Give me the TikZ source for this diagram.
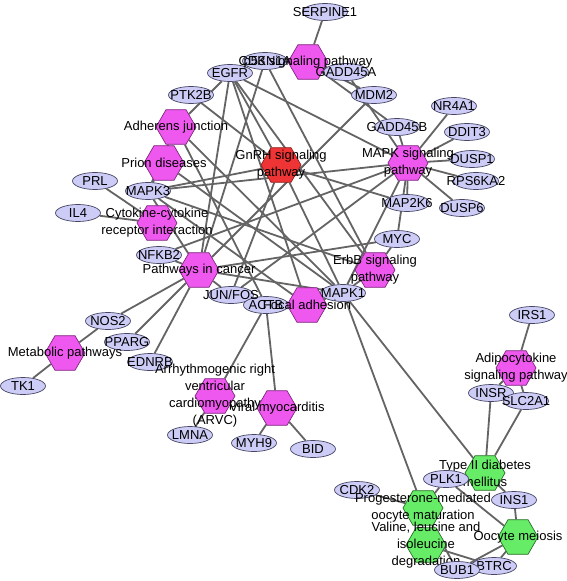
\documentclass[tikz,border=0pt]{standalone}
\usepackage{fontspec}
\setmainfont{Liberation Sans}
\usetikzlibrary{shapes.geometric}
\pgfdeclarelayer{background}
\pgfdeclarelayer{paper}
\pgfsetlayers{paper,background,main}
\definecolor{hexmag}{RGB}{238,88,238}
\definecolor{hexmagdraw}{RGB}{125,40,125}
\definecolor{redfill}{RGB}{238,52,52}
\definecolor{reddraw}{RGB}{140,30,30}
\definecolor{greenfill}{RGB}{102,236,102}
\definecolor{greendraw}{RGB}{40,110,40}
\definecolor{genefill}{RGB}{204,204,247}
\definecolor{genedraw}{RGB}{70,70,100}
\definecolor{edgecol}{RGB}{100,100,100}
\begin{document}
\begin{tikzpicture}[x=1pt,y=-1pt,
 gene/.style={ellipse,draw=genedraw,fill=genefill,line width=0.7pt,minimum width=45pt,minimum height=17pt,inner sep=0pt},
 hexbase/.style={regular polygon,regular polygon sides=6,minimum size=40pt,inner sep=0pt,line width=0.7pt},
 pw/.style={hexbase,draw=hexmagdraw,fill=hexmag},
 pwred/.style={hexbase,draw=reddraw,fill=redfill},
 pwgreen/.style={hexbase,draw=greendraw,fill=greenfill},
 lbl/.style={font=\fontsize{13}{17}\selectfont,align=center,inner sep=0pt,text=black},
 conn/.style={draw=edgecol,line width=1.8pt}]
\useasboundingbox (0,0) rectangle (567,581);
\begin{pgfonlayer}{paper}
\fill[white] (0,0) rectangle (567,581);
\end{pgfonlayer}
% gene shapes
\node[gene] (SERPINE1) at (325,12) {};
\node[gene] (CDKN1A) at (265,61) {};
\node[gene] (GADD45A) at (346,72) {};
\node[gene] (EGFR) at (230,73) {};
\node[gene] (MDM2) at (374,95) {};
\node[gene] (PTK2B) at (191,95) {};
\node[gene] (NR4A1) at (454,106) {};
\node[gene] (GADD45B) at (397,127) {};
\node[gene] (DDIT3) at (467,132) {};
\node[gene] (DUSP1) at (472,159) {};
\node[gene] (PRL) at (95,181) {};
\node[gene] (RPS6KA2) at (476,181) {};
\node[gene] (MAPK3) at (148,191) {};
\node[gene] (MAP2K6) at (407,203) {};
\node[gene] (DUSP6) at (462,208) {};
\node[gene] (IL4) at (78,213) {};
\node[gene] (MYC) at (397,239) {};
\node[gene] (NFKB2) at (159,255) {};
\node[gene] (MAPK1) at (343,293) {};
\node[gene] (JUNFOS) at (231,295) {};
\node[gene] (ACTB) at (266,305) {};
\node[gene] (NOS2) at (108,321) {};
\node[gene] (IRS1) at (532,315) {};
\node[gene] (PPARG) at (127,342) {};
\node[gene] (EDNRB) at (150,362) {};
\node[gene] (TK1) at (23,386) {};
\node[gene] (INSR) at (491,393) {};
\node[gene] (SLC2A1) at (526,401) {};
\node[gene] (LMNA) at (190,435) {};
\node[gene] (MYH9) at (254,443) {};
\node[gene] (BID) at (313,449) {};
\node[gene] (CDK2) at (357,490) {};
\node[gene] (INS1) at (514,500) {};
% pathway shapes
\node[pw] (p53) at (308,62) {};
\node[pw] (Adherens) at (176,127) {};
\node[pw] (Prion) at (164,163) {};
\node[pwred] (GnRH) at (281,165) {};
\node[pw] (MAPK) at (408,163) {};
\node[pw] (Cytokine) at (157,223) {};
\node[pw] (Cancer) at (199,270) {};
\node[pw] (ErbB) at (375,270) {};
\node[pw] (Focal) at (307,305) {};
\node[pw] (Metabolic) at (65,353) {};
\node[pw] (ARVC) at (215,396) {};
\node[pw] (Viral) at (277,408) {};
\node[pw] (Adipo) at (516,368) {};
\node[pwgreen] (TypeII) at (485,473) {};
\node[pwgreen] (Prog) at (423,508) {};
\node[pwgreen] (Oocyte) at (518,537) {};
\node[pwgreen] (Valine) at (426,545) {};
% labels
\node[lbl] (SERPINE1-l) at (SERPINE1) {SERPINE1};
\node[lbl] (CDKN1A-l) at (CDKN1A) {CDKN1A};
\node[lbl] (GADD45A-l) at (GADD45A) {GADD45A};
\node[lbl] (EGFR-l) at (EGFR) {EGFR};
\node[lbl] (MDM2-l) at (MDM2) {MDM2};
\node[lbl] (PTK2B-l) at (PTK2B) {PTK2B};
\node[lbl] (NR4A1-l) at (NR4A1) {NR4A1};
\node[lbl] (GADD45B-l) at (GADD45B) {GADD45B};
\node[lbl] (DDIT3-l) at (DDIT3) {DDIT3};
\node[lbl] (DUSP1-l) at (DUSP1) {DUSP1};
\node[lbl] (PRL-l) at (PRL) {PRL};
\node[lbl] (RPS6KA2-l) at (RPS6KA2) {RPS6KA2};
\node[lbl] (MAPK3-l) at (MAPK3) {MAPK3};
\node[lbl] (MAP2K6-l) at (MAP2K6) {MAP2K6};
\node[lbl] (DUSP6-l) at (DUSP6) {DUSP6};
\node[lbl] (IL4-l) at (IL4) {IL4};
\node[lbl] (MYC-l) at (MYC) {MYC};
\node[lbl] (NFKB2-l) at (NFKB2) {NFKB2};
\node[lbl] (MAPK1-l) at (MAPK1) {MAPK1};
\node[lbl] (JUNFOS-l) at (JUNFOS) {JUN/FOS};
\node[lbl] (ACTB-l) at (ACTB) {ACTB};
\node[lbl] (NOS2-l) at (NOS2) {NOS2};
\node[lbl] (IRS1-l) at (IRS1) {IRS1};
\node[lbl] (PPARG-l) at (PPARG) {PPARG};
\node[lbl] (EDNRB-l) at (EDNRB) {EDNRB};
\node[lbl] (TK1-l) at (TK1) {TK1};
\node[lbl] (INSR-l) at (INSR) {INSR};
\node[lbl] (SLC2A1-l) at (SLC2A1) {SLC2A1};
\node[lbl] (LMNA-l) at (LMNA) {LMNA};
\node[lbl] (MYH9-l) at (MYH9) {MYH9};
\node[lbl] (BID-l) at (BID) {BID};
\node[lbl] (CDK2-l) at (CDK2) {CDK2};
\node[lbl] (INS1-l) at (INS1) {INS1};
\node[lbl] (p53-l) at (p53) {p53 signaling pathway};
\node[lbl] (Adherens-l) at (Adherens) {Adherens junction};
\node[lbl] (Prion-l) at (Prion) {Prion diseases};
\node[lbl] (GnRH-l) at (GnRH) {GnRH signaling\\pathway};
\node[lbl] (MAPK-l) at (MAPK) {MAPK signaling\\pathway};
\node[lbl] (Cytokine-l) at (Cytokine) {Cytokine-cytokine\\receptor interaction};
\node[lbl] (Cancer-l) at (Cancer) {Pathways in cancer};
\node[lbl] (ErbB-l) at (ErbB) {ErbB signaling\\pathway};
\node[lbl] (Focal-l) at (Focal) {Focal adhesion};
\node[lbl] (Metabolic-l) at (Metabolic) {Metabolic pathways};
\node[lbl] (ARVC-l) at (ARVC) {Arrhythmogenic right\\ventricular\\cardiomyopathy\\(ARVC)};
\node[lbl] (Viral-l) at (Viral) {Viral myocarditis};
\node[lbl] (Adipo-l) at (Adipo) {Adipocytokine\\signaling pathway};
\node[lbl] (TypeII-l) at (TypeII) {Type II diabetes\\mellitus};
\node[lbl] (Prog-l) at (Prog) {Progesterone-mediated\\oocyte maturation};
\node[lbl] (Oocyte-l) at (Oocyte) {Oocyte meiosis};
\node[lbl] (Valine-l) at (Valine) {Valine, leucine and\\isoleucine\\degradation};
% late shapes covering labels
\node[gene] (PLK1) at (446,479) {};
\node[lbl] (PLK1-l) at (PLK1) {PLK1};
\node[gene] (BTRC) at (494,566) {};
\node[lbl] (BTRC-l) at (BTRC) {BTRC};
\node[gene] (BUB1) at (457,570) {};
\node[lbl] (BUB1-l) at (BUB1) {BUB1};
% connectors
\begin{pgfonlayer}{background}
\foreach \g in {SERPINE1,CDKN1A,GADD45A,GADD45B,MDM2} \draw[conn] (p53) -- (\g);
\foreach \g in {EGFR,MAPK1,MAPK3,ACTB} \draw[conn] (Adherens) -- (\g);
\foreach \g in {MAPK1,MAPK3} \draw[conn] (Prion) -- (\g);
\foreach \g in {EGFR,PTK2B,MAPK1,MAPK3,JUNFOS,MAP2K6} \draw[conn] (GnRH) -- (\g);
\foreach \g in {EGFR,GADD45A,GADD45B,NR4A1,DDIT3,DUSP1,RPS6KA2,DUSP6,MAP2K6,MAPK1,MAPK3,MYC,JUNFOS,NFKB2} \draw[conn] (MAPK) -- (\g);
\foreach \g in {PRL,IL4} \draw[conn] (Cytokine) -- (\g);
\foreach \g in {EGFR,CDKN1A,MDM2,MAPK3,MAPK1,NFKB2,JUNFOS,MYC,NOS2,PPARG,EDNRB} \draw[conn] (Cancer) -- (\g);
\foreach \g in {EGFR,CDKN1A,MAPK3,MAPK1,MYC} \draw[conn] (ErbB) -- (\g);
\foreach \g in {EGFR,MAPK1,MAPK3,JUNFOS,ACTB} \draw[conn] (Focal) -- (\g);
\foreach \g in {NOS2,TK1} \draw[conn] (Metabolic) -- (\g);
\foreach \g in {ACTB,LMNA} \draw[conn] (ARVC) -- (\g);
\foreach \g in {ACTB,MYH9,BID} \draw[conn] (Viral) -- (\g);
\foreach \g in {IRS1,SLC2A1,INSR} \draw[conn] (Adipo) -- (\g);
\foreach \g in {INSR,SLC2A1,MAPK1,INS1} \draw[conn] (TypeII) -- (\g);
\foreach \g in {MAPK1,CDK2,PLK1,BUB1} \draw[conn] (Prog) -- (\g);
\foreach \g in {BTRC} \draw[conn] (Valine) -- (\g);
\foreach \g in {PLK1,INS1,BTRC,BUB1} \draw[conn] (Oocyte) -- (\g);
\end{pgfonlayer}
\end{tikzpicture}
\end{document}
